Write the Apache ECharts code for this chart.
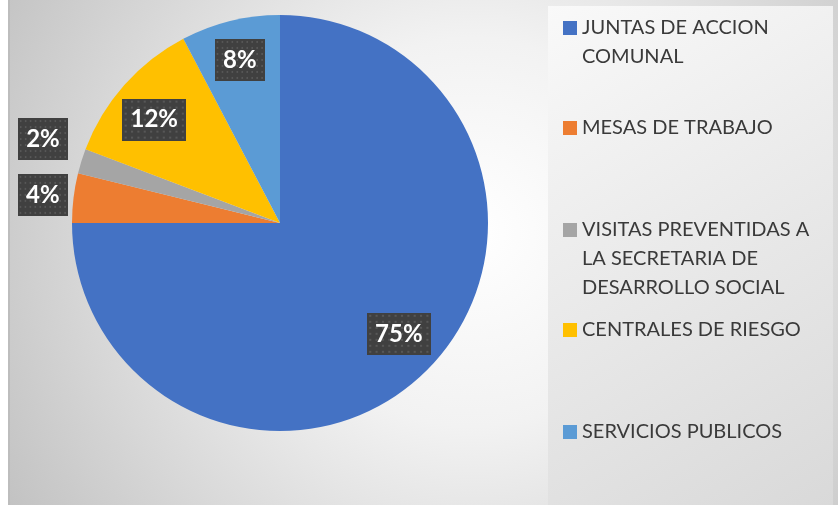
<!DOCTYPE html>
<html>
<head>
<meta charset="utf-8">
<script src="https://cdn.jsdelivr.net/npm/echarts@6/dist/echarts.min.js"></script>
<style>
  html, body { margin: 0; padding: 0; background: #fff; }
  #chart { width: 838px; height: 505px; }
</style>
</head>
<body>
<div id="chart"></div>
<script>
// datos del grafico
const categories = [
  'JUNTAS DE ACCION COMUNAL',
  'MESAS DE TRABAJO',
  'VISITAS PREVENTIDAS A LA SECRETARIA DE DESARROLLO SOCIAL',
  'CENTRALES DE RIESGO',
  'SERVICIOS PUBLICOS'
]
const values = [39, 2, 1, 6, 4]
const legendLines = [
  ['JUNTAS DE ACCION', 'COMUNAL'],
  ['MESAS DE TRABAJO'],
  ['VISITAS PREVENTIDAS A', 'LA SECRETARIA DE', 'DESARROLLO SOCIAL'],
  ['CENTRALES DE RIESGO'],
  ['SERVICIOS PUBLICOS']
]
const colors = ['#4472C4', '#ED7D31', '#A5A5A5', '#FFC000', '#5B9BD5']

// layout
const legendY = [28, 128, 230, 330, 432]
const lineH = 29
const insideIdx = [0, 3, 4]
const outsideIdx = [1, 2]

// fondo punteado de las etiquetas
const dotCanvas = document.createElement('canvas')
dotCanvas.width = 60
dotCanvas.height = 42
const ctx = dotCanvas.getContext('2d')
ctx.fillStyle = '#404040'
ctx.fillRect(0, 0, 60, 42)
ctx.fillStyle = '#575757'
for (let x = 2; x < 60; x += 6) {
  for (let y = 2; y < 42; y += 6) {
    ctx.fillRect(x, y, 2, 2)
  }
}

const labelStyle = {
  position: 'inside',
  formatter: p => Math.round(p.percent) + '%',
  color: '#fff',
  fontFamily: 'Lato',
  fontWeight: 'bold',
  fontSize: 24,
  lineHeight: 24,
  backgroundColor: { image: dotCanvas },
  padding: [9, 8],
  shadowColor: 'rgba(0,0,0,0.45)',
  shadowBlur: 6,
  shadowOffsetX: 3,
  shadowOffsetY: 3
}

function labelData(showIdx, offsets) {
  return values.map((v, i) => ({
    name: categories[i],
    value: v,
    label: {
      show: showIdx.includes(i),
      offset: offsets[i] || [0, 0]
    }
  }))
}

const chart = echarts.init(document.getElementById('chart'))
const option = {
  animation: false,
  backgroundColor: '#fff',
  color: colors,
  graphic: [
    {
      type: 'rect',
      z: -10,
      shape: { x: 8, y: 0, width: 830, height: 505 },
      style: {
        fill: {
          type: 'radial', x: 0.56, y: 0.46, r: 1.1,
          colorStops: [
            { offset: 0, color: '#ffffff' },
            { offset: 0.35, color: '#f2f2f2' },
            { offset: 1, color: '#c0c0c0' }
          ]
        }
      }
    },
    {
      type: 'rect',
      z: -9,
      shape: { x: 8, y: 0, width: 2, height: 505 },
      style: { fill: '#bdbdbd' }
    },
    {
      type: 'rect',
      z: -9,
      shape: { x: 548, y: 6, width: 285, height: 499 },
      style: {
        fill: {
          type: 'linear', x: 0, y: 0, x2: 1, y2: 1,
          colorStops: [
            { offset: 0, color: '#f9f9f9' },
            { offset: 1, color: '#d9d9d9' }
          ]
        }
      }
    }
  ],
  legend: categories.map((name, i) => {
    const n = legendLines[i].length
    const h = (2 * n - 1) * lineH
    return {
      data: [name],
      orient: 'vertical',
      left: 563,
      top: legendY[i] - h / 2,
      padding: 0,
      itemWidth: 14,
      itemHeight: 14,
      icon: 'rect',
      selectedMode: false,
      formatter: () => '\n'.repeat(n - 1) + legendLines[i].join('\n'),
      textStyle: { fontFamily: 'Lato', fontSize: 20, color: '#3a3a3a', lineHeight: lineH }
    }
  }),
  series: [
    {
      type: 'pie',
      center: [280, 223],
      radius: 208,
      startAngle: 90,
      avoidLabelOverlap: false,
      label: { show: false },
      labelLine: { show: false },
      emphasis: { scale: false },
      itemStyle: { borderWidth: 0 },
      data: values.map((v, i) => ({ name: categories[i], value: v }))
    },
    {
      type: 'pie',
      silent: true,
      center: [280, 223],
      radius: [122, 208],
      startAngle: 90,
      avoidLabelOverlap: false,
      itemStyle: { color: 'rgba(0,0,0,0)' },
      labelLine: { show: false },
      label: labelStyle,
      data: labelData(insideIdx, { 0: [0, -8], 3: [0, 8] })
    },
    {
      type: 'pie',
      silent: true,
      center: [280, 223],
      radius: [218, 260],
      startAngle: 90,
      avoidLabelOverlap: false,
      itemStyle: { color: 'rgba(0,0,0,0)' },
      labelLine: { show: false },
      label: labelStyle,
      data: labelData(outsideIdx, { 1: [3, 1], 2: [-6, -12] })
    }
  ]
}
chart.setOption(option)
</script>
</body>
</html>
